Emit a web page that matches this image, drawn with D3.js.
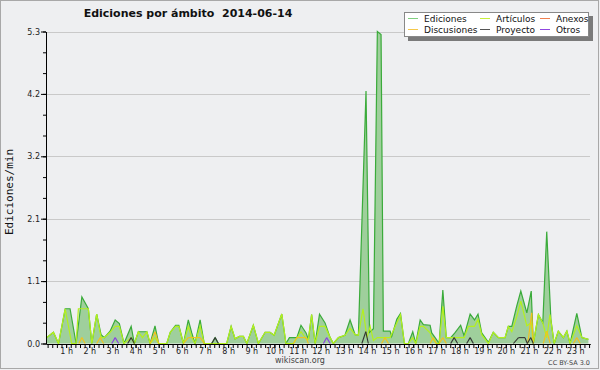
<!DOCTYPE html>
<html>
<head>
<meta charset="utf-8">
<script src="https://cdn.jsdelivr.net/npm/d3@7"></script>
<style>
  body { margin: 0; background: #eeeff1; }
  svg { display: block; }
</style>
</head>
<body>
<div id="chart"></div>
<script>
// [hora, ediciones/min]
var ediciones = [[0.16,0.10],[0.45,0.19],[0.67,0],[0.96,0.59],[1.17,0.59],[1.43,0],[1.68,0.79],[1.96,0.59],[2.11,0],[2.32,0.50],[2.51,0.15],[2.65,0.10],[2.90,0.21],[3.12,0.40],[3.30,0.34],[3.50,0],[3.81,0.29],[3.95,0],[4.12,0.20],[4.49,0.20],[4.63,0],[4.84,0.30],[5.00,0],[5.35,0],[5.50,0.19],[5.73,0.31],[5.87,0.31],[6.07,0],[6.28,0.40],[6.43,0.18],[6.57,0],[6.79,0.40],[6.97,0],[7.29,0],[7.44,0.10],[7.58,0],[7.94,0],[8.13,0.29],[8.30,0.08],[8.49,0.12],[8.66,0.12],[8.81,0],[9.09,0.31],[9.31,0],[9.60,0.19],[9.81,0.19],[9.99,0.14],[10.32,0.50],[10.50,0],[10.65,0.10],[10.97,0.10],[11.15,0.31],[11.37,0.18],[11.47,0.07],[11.61,0.49],[11.76,0],[11.95,0.50],[12.19,0.35],[12.41,0.10],[12.55,0],[12.77,0.10],[13.05,0.14],[13.27,0.40],[13.49,0.15],[13.63,0.14],[13.96,4.29],[14.11,0.19],[14.28,0.25],[14.45,5.30],[14.61,5.25],[14.71,0.21],[15.00,0.21],[15.07,0.12],[15.29,0.41],[15.45,0.51],[15.62,0],[15.79,0],[15.98,0.20],[16.11,0],[16.30,0.40],[16.44,0.32],[16.73,0.31],[16.80,0.18],[17.00,0.07],[17.12,0],[17.28,0.91],[17.43,0.10],[17.62,0.10],[17.80,0.18],[18.05,0.31],[18.20,0.13],[18.46,0.50],[18.65,0.40],[18.80,0.50],[18.96,0.18],[19.25,0.02],[19.46,0.19],[19.68,0.10],[19.97,0.10],[20.11,0.29],[20.26,0.29],[20.47,0.63],[20.65,0.89],[20.91,0.52],[21.10,0.89],[21.19,0],[21.41,0.49],[21.60,0.35],[21.77,1.90],[21.95,0.41],[22.09,0],[22.27,0.21],[22.49,0.10],[22.64,0.21],[22.78,0],[23.07,0.51],[23.29,0.10],[23.57,0.07]];

var articulos = [[0.16,0.10],[0.45,0.19],[0.67,0],[0.96,0.59],[1.24,0],[1.43,0],[1.53,0.59],[1.96,0.59],[2.11,0],[2.32,0.50],[2.51,0.10],[2.65,0.10],[2.90,0.19],[3.12,0.29],[3.30,0.29],[3.50,0],[3.81,0.10],[3.95,0],[4.12,0.20],[4.30,0.10],[4.49,0.20],[4.63,0],[4.84,0.10],[5.00,0],[5.35,0],[5.50,0.19],[5.73,0.29],[5.87,0.29],[6.07,0],[6.28,0.29],[6.43,0.10],[6.57,0],[6.79,0.30],[6.97,0],[7.94,0],[8.13,0.29],[8.30,0.08],[8.49,0.12],[8.66,0.12],[8.81,0],[9.09,0.31],[9.31,0],[9.60,0.19],[9.81,0.19],[9.99,0.14],[10.32,0.50],[10.50,0],[10.82,0],[11.15,0.20],[11.37,0.08],[11.47,0.07],[11.61,0.49],[11.76,0],[11.95,0.29],[12.19,0.29],[12.41,0.10],[12.55,0],[12.77,0.10],[13.05,0.14],[13.27,0.26],[13.49,0.15],[13.63,0.14],[13.83,0.59],[14.00,0.10],[14.14,0.29],[14.28,0.05],[14.45,0.10],[14.71,0.10],[15.00,0.10],[15.29,0.35],[15.45,0.49],[15.62,0],[15.79,0],[15.98,0.10],[16.11,0],[16.30,0.29],[16.44,0.29],[16.73,0.18],[16.80,0.10],[17.00,0],[17.12,0],[17.28,0.63],[17.43,0.10],[17.62,0.10],[17.80,0.10],[18.05,0.10],[18.20,0.10],[18.38,0.29],[18.65,0.29],[18.80,0.41],[18.96,0.15],[19.25,0],[19.46,0.19],[19.68,0.10],[19.97,0.10],[20.11,0.29],[20.26,0.20],[20.47,0.45],[20.65,0.72],[20.91,0.30],[21.10,0.35],[21.19,0],[21.41,0.49],[21.60,0.35],[21.77,0.10],[21.91,0.49],[22.09,0],[22.27,0.21],[22.49,0.10],[22.64,0.21],[22.78,0],[23.07,0.30],[23.29,0.10],[23.57,0.07]];

var discusiones = [[1.55,0],[1.68,0.10],[1.82,0],[2.32,0],[2.47,0.10],[2.62,0],[4.63,0],[4.84,0.20],[5.00,0],[6.07,0],[6.28,0.10],[6.79,0.10],[6.97,0],[10.82,0],[10.97,0.10],[11.37,0.10],[11.47,0],[14.63,0],[14.78,0.10],[14.93,0],[16.73,0],[16.87,0.10],[17.00,0],[17.12,0],[17.28,0.10],[17.43,0],[20.95,0],[21.12,0.52],[21.19,0],[21.62,0],[21.77,0.21],[21.92,0],[22.92,0],[23.07,0.10],[23.22,0]];

var proyecto = [[3.66,0],[3.81,0.10],[3.95,0],[7.29,0],[7.44,0.10],[7.58,0],[13.78,0],[13.95,0.20],[14.06,0],[17.62,0],[17.77,0.10],[17.92,0],[18.31,0],[18.46,0.10],[18.60,0],[20.33,0],[20.55,0.10],[20.83,0.10],[20.93,0],[21.08,0.10],[21.19,0]];

var otros = [[2.97,0],[3.12,0.10],[3.27,0],[12.12,0],[12.26,0.10],[12.41,0]];

var anexos = [];

var y_ticks = [0, 1.06, 2.12, 3.18, 4.24, 5.3];
var hour_ticks = [1,2,3,4,5,6,7,8,9,10,11,12,13,14,15,16,17,18,19,20,21,22,23];

var legend_names = ['Ediciones', 'Artículos', 'Anexos', 'Discusiones', 'Proyecto', 'Otros'];
var legend_colours = ['#7fcf7f', '#c8ef3c', '#f08050', '#f5c84a', '#555555', '#9048e0'];

var font = 'DejaVu Sans, sans-serif';

var svg = d3.select('#chart').append('svg')
    .attr('width', 600)
    .attr('height', 370);

svg.append('rect')
    .attr('x', 0.5).attr('y', 0.5)
    .attr('width', 598).attr('height', 368)
    .attr('fill', '#eeeff1')
    .attr('stroke', '#a8a8a8');

var x = d3.scaleLinear()
    .domain([0.13, 23.64])
    .range([46, 590]);

var y = d3.scaleLinear()
    .domain([0, 5.3])
    .range([343.5, 31.5]);

// grid
svg.append('g')
    .selectAll('line')
    .data(y_ticks.slice(1))
    .enter()
    .append('line')
        .attr('x1', 46).attr('x2', 590)
        .attr('y1', d => Math.round(y(d)) + 0.5)
        .attr('y2', d => Math.round(y(d)) + 0.5)
        .attr('stroke', '#c9c9c9');

var area = d3.area()
    .x(d => x(d[0]))
    .y0(y(0))
    .y1(d => y(d[1]));

var line = d3.line()
    .x(d => x(d[0]))
    .y(d => y(d[1]));

svg.append('path')
    .datum(ediciones)
    .attr('d', area)
    .attr('fill', '#9fcf9c');

svg.append('path')
    .datum(ediciones)
    .attr('d', line)
    .attr('fill', 'none')
    .attr('stroke', '#3aab3a')
    .attr('stroke-width', 1.2);

// small series: only draw the segments that leave zero
function bumps(data, colour) {
    var segs = d3.pairs(data).filter(p => p[0][1] > 0 || p[1][1] > 0);
    svg.append('g')
        .selectAll('path')
        .data(segs)
        .enter()
        .append('path')
            .attr('d', line)
            .attr('fill', 'none')
            .attr('stroke', colour)
            .attr('stroke-width', 1.1);
}

svg.append('path')
    .datum(articulos)
    .attr('d', line)
    .attr('fill', 'none')
    .attr('stroke', '#b4f01e')
    .attr('stroke-width', 1.2);

bumps(discusiones, '#f5c21a');
bumps(proyecto, '#333333');
bumps(otros, '#8a3ce6');
bumps(anexos, '#f07040');

// axes
var yAxisMinor = svg.append('g')
    .attr('transform', 'translate(46,0)')
    .call(d3.axisLeft(y)
        .tickValues(d3.range(0, 16).map(i => i * 5.3 / 15))
        .tickSize(3)
        .tickSizeOuter(0)
        .tickFormat(''));

var yAxis = svg.append('g')
    .attr('transform', 'translate(46,0)')
    .call(d3.axisLeft(y)
        .tickValues(y_ticks)
        .tickSize(5)
        .tickSizeOuter(0)
        .tickPadding(1)
        .tickFormat(d3.format('.1f')));

var xAxisMinor = svg.append('g')
    .attr('transform', 'translate(0,344)')
    .call(d3.axisBottom(x)
        .tickValues(d3.range(1, 119).map(i => i * 0.2))
        .tickSize(4)
        .tickSizeOuter(0)
        .tickFormat(''));

var xAxis = svg.append('g')
    .attr('transform', 'translate(0,344)')
    .call(d3.axisBottom(x)
        .tickValues(hour_ticks)
        .tickSize(4)
        .tickSizeOuter(0)
        .tickFormat(d => d + ' h'));

[yAxisMinor, yAxis, xAxisMinor, xAxis].forEach(function (g) {
    g.selectAll('.domain').attr('stroke', '#000');
    g.selectAll('.tick line').attr('stroke', '#000');
    g.selectAll('text')
        .attr('font-family', font)
        .attr('font-size', 8)
        .attr('fill', '#222');
});
xAxis.selectAll('text').attr('y', 9.5).attr('dy', 0);

// title
svg.append('text')
    .attr('x', 188).attr('y', 17)
    .attr('text-anchor', 'middle')
    .attr('font-family', font)
    .attr('font-weight', 'bold')
    .attr('font-size', 11)
    .attr('fill', '#111')
    .style('white-space', 'pre')
    .text('Ediciones por ámbito  2014-06-14');

// y label
svg.append('text')
    .attr('transform', 'translate(13,192) rotate(-90)')
    .attr('text-anchor', 'middle')
    .attr('font-family', 'DejaVu Sans Mono, monospace')
    .attr('font-size', 11)
    .attr('fill', '#111')
    .text('Ediciones/min');

// footer
svg.append('text')
    .attr('x', 300).attr('y', 363)
    .attr('text-anchor', 'middle')
    .attr('font-family', font)
    .attr('font-size', 8)
    .attr('fill', '#444')
    .text('wikiscan.org');

svg.append('text')
    .attr('x', 590).attr('y', 365)
    .attr('text-anchor', 'end')
    .attr('font-family', font)
    .attr('font-size', 6.5)
    .attr('fill', '#444')
    .text('CC BY-SA 3.0');

// legend
var legend = svg.append('g');
legend.append('rect')
    .attr('x', 408).attr('y', 16)
    .attr('width', 185).attr('height', 25)
    .attr('fill', '#7a7a7a');
legend.append('rect')
    .attr('x', 404.5).attr('y', 12.5)
    .attr('width', 184).attr('height', 24)
    .attr('fill', '#fff')
    .attr('stroke', '#888');

var cols = [408, 480, 540];
var item = legend.selectAll('.item')
    .data(legend_names)
    .enter()
    .append('g')
        .attr('transform', (d, i) => `translate(${cols[i % 3]},${i < 3 ? 18.5 : 29.5})`);
item.append('line')
    .attr('x1', 0).attr('x2', 10)
    .attr('stroke', (d, i) => legend_colours[i]);
item.append('text')
    .attr('x', 16).attr('y', 3.5)
    .attr('font-family', font)
    .attr('font-size', 9)
    .attr('fill', '#111')
    .text(d => d);
</script>
</body>
</html>
